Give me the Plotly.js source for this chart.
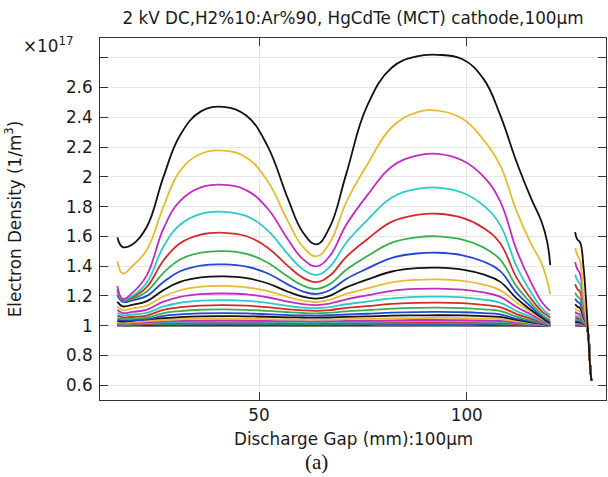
<!DOCTYPE html>
<html>
<head>
<meta charset="utf-8">
<script src="https://cdn.plot.ly/plotly-3.0.1.min.js"></script>
<style>html,body{margin:0;padding:0;background:#fff;}#chart{width:608px;height:477px;}</style>
</head>
<body>
<div id="chart"></div>
<script>
// Discharge gap positions (mm); the null entry in each series splits the two segments
const gapMM = [15.9, 17.2, 19.5, 23, 27, 31, 36, 41.5, 47, 52, 57, 60.5, 63.8, 67, 71, 76, 82, 88, 93, 99, 104, 108, 112, 115.5, 118, 119.4, 120.1, 123, 126.1, 126.6, 127.3, 128.1, 128.7, 129.3, 129.7, 130.0];

// Electron density (x1e17 1/m^3), one array per time step, lowest first
const ne01 = [1.0, 1.0, 1.0, 1.0, 1.0, 1.0, 1.0, 1.0, 1.0, 1.0, 1.0, 1.0, 1.0, 1.0, 1.0, 1.0, 1.0, 1.0, 1.0, 1.0, 1.0, 1.0, 1.0, 1.0, 1.0, 1.0, 1.0, null, 1.0, 1.0, 1.0, 1.0, 1.0, 0.93, 0.74, 0.63];
const ne02 = [1.0, 1.0, 1.0, 1.0, 1.001, 1.001, 1.001, 1.001, 1.001, 1.001, 1.001, 1.001, 1.001, 1.001, 1.001, 1.001, 1.001, 1.001, 1.001, 1.001, 1.001, 1.001, 1.0, 1.0, 1.0, 1.0, 1.0, null, 1.0, 1.0, 1.0, 1.0, 1.0, 0.93, 0.74, 0.63];
const ne03 = [1.001, 1.001, 1.001, 1.001, 1.001, 1.001, 1.001, 1.001, 1.001, 1.001, 1.001, 1.001, 1.001, 1.001, 1.001, 1.001, 1.001, 1.001, 1.002, 1.001, 1.001, 1.001, 1.001, 1.0, 1.0, 1.0, 1.0, null, 1.001, 1.0, 1.0, 1.0, 1.0, 0.93, 0.74, 0.63];
const ne04 = [1.001, 1.001, 1.001, 1.002, 1.002, 1.002, 1.002, 1.002, 1.002, 1.002, 1.002, 1.002, 1.002, 1.002, 1.002, 1.002, 1.002, 1.002, 1.003, 1.002, 1.002, 1.002, 1.001, 1.001, 1.0, 1.0, 1.0, null, 1.001, 1.001, 1.001, 1.0, 1.0, 0.93, 0.74, 0.63];
const ne05 = [1.002, 1.001, 1.002, 1.002, 1.003, 1.003, 1.003, 1.003, 1.003, 1.003, 1.003, 1.003, 1.003, 1.003, 1.003, 1.003, 1.003, 1.003, 1.004, 1.003, 1.003, 1.003, 1.002, 1.001, 1.001, 1.0, 1.0, null, 1.001, 1.001, 1.001, 1.0, 1.0, 0.93, 0.74, 0.63];
const ne06 = [1.002, 1.002, 1.002, 1.003, 1.004, 1.004, 1.005, 1.005, 1.005, 1.004, 1.004, 1.004, 1.004, 1.004, 1.004, 1.004, 1.005, 1.005, 1.005, 1.005, 1.005, 1.004, 1.003, 1.002, 1.001, 1.0, 1.0, null, 1.002, 1.002, 1.002, 1.001, 1.0, 0.93, 0.74, 0.63];
const ne07 = [1.003, 1.003, 1.003, 1.004, 1.005, 1.006, 1.006, 1.006, 1.006, 1.006, 1.006, 1.005, 1.005, 1.006, 1.006, 1.006, 1.007, 1.007, 1.007, 1.007, 1.006, 1.006, 1.004, 1.002, 1.001, 1.001, 1.0, null, 1.003, 1.002, 1.002, 1.001, 1.0, 0.93, 0.74, 0.63];
const ne08 = [1.005, 1.004, 1.005, 1.007, 1.008, 1.009, 1.01, 1.01, 1.01, 1.009, 1.009, 1.009, 1.008, 1.009, 1.009, 1.01, 1.01, 1.011, 1.011, 1.011, 1.01, 1.009, 1.006, 1.004, 1.002, 1.001, 1.0, null, 1.004, 1.004, 1.003, 1.002, 1.0, 0.93, 0.74, 0.63];
const ne09 = [1.007, 1.006, 1.008, 1.01, 1.012, 1.013, 1.014, 1.015, 1.014, 1.014, 1.013, 1.012, 1.012, 1.013, 1.013, 1.014, 1.015, 1.016, 1.016, 1.016, 1.015, 1.013, 1.009, 1.005, 1.003, 1.001, 1.001, null, 1.006, 1.005, 1.005, 1.002, 1.001, 0.93, 0.74, 0.63];
const ne10 = [1.01, 1.009, 1.011, 1.014, 1.017, 1.019, 1.021, 1.021, 1.021, 1.02, 1.018, 1.018, 1.018, 1.018, 1.019, 1.02, 1.022, 1.023, 1.023, 1.023, 1.021, 1.019, 1.013, 1.008, 1.004, 1.002, 1.001, null, 1.009, 1.008, 1.007, 1.003, 1.001, 0.93, 0.74, 0.63];
const ne11 = [1.014, 1.012, 1.014, 1.018, 1.022, 1.025, 1.027, 1.028, 1.027, 1.026, 1.024, 1.023, 1.023, 1.024, 1.025, 1.026, 1.029, 1.03, 1.03, 1.029, 1.028, 1.025, 1.017, 1.01, 1.005, 1.002, 1.001, null, 1.011, 1.01, 1.009, 1.004, 1.001, 0.93, 0.74, 0.63];
const ne12 = [1.017, 1.015, 1.018, 1.023, 1.028, 1.032, 1.034, 1.035, 1.034, 1.032, 1.03, 1.03, 1.029, 1.03, 1.032, 1.033, 1.036, 1.038, 1.038, 1.037, 1.035, 1.032, 1.021, 1.013, 1.006, 1.003, 1.002, null, 1.014, 1.013, 1.011, 1.005, 1.002, 0.93, 0.74, 0.63];
const ne13 = [1.023, 1.021, 1.024, 1.031, 1.038, 1.043, 1.047, 1.048, 1.047, 1.044, 1.042, 1.041, 1.04, 1.041, 1.044, 1.046, 1.049, 1.051, 1.052, 1.051, 1.048, 1.044, 1.029, 1.017, 1.009, 1.004, 1.002, null, 1.019, 1.017, 1.016, 1.007, 1.002, 0.93, 0.74, 0.63];
const ne14 = [1.032, 1.028, 1.033, 1.042, 1.051, 1.058, 1.063, 1.064, 1.063, 1.06, 1.056, 1.055, 1.054, 1.055, 1.059, 1.062, 1.067, 1.069, 1.07, 1.069, 1.064, 1.059, 1.039, 1.023, 1.012, 1.006, 1.003, null, 1.026, 1.023, 1.021, 1.01, 1.003, 0.93, 0.74, 0.63];
const ne15 = [1.041, 1.035, 1.037, 1.042, 1.066, 1.076, 1.082, 1.084, 1.082, 1.077, 1.071, 1.069, 1.068, 1.07, 1.075, 1.08, 1.087, 1.091, 1.092, 1.09, 1.084, 1.076, 1.046, 1.028, 1.014, 1.006, 1.004, null, 1.034, 1.03, 1.028, 1.013, 1.004, 0.93, 0.74, 0.63];
const ne16 = [1.053, 1.045, 1.048, 1.054, 1.085, 1.098, 1.107, 1.109, 1.106, 1.099, 1.09, 1.085, 1.083, 1.087, 1.096, 1.104, 1.114, 1.12, 1.121, 1.118, 1.11, 1.099, 1.061, 1.036, 1.018, 1.008, 1.005, null, 1.045, 1.04, 1.036, 1.017, 1.005, 0.93, 0.74, 0.63];
const ne17 = [1.068, 1.056, 1.06, 1.068, 1.106, 1.124, 1.135, 1.138, 1.134, 1.124, 1.11, 1.103, 1.10, 1.105, 1.119, 1.131, 1.146, 1.153, 1.155, 1.151, 1.14, 1.125, 1.078, 1.047, 1.023, 1.011, 1.006, null, 1.057, 1.051, 1.047, 1.022, 1.006, 0.93, 0.74, 0.63];
const ne18 = [1.085, 1.07, 1.075, 1.086, 1.129, 1.154, 1.168, 1.172, 1.167, 1.153, 1.133, 1.121, 1.117, 1.124, 1.144, 1.162, 1.183, 1.193, 1.195, 1.19, 1.175, 1.155, 1.098, 1.059, 1.029, 1.014, 1.008, null, 1.072, 1.064, 1.059, 1.027, 1.008, 0.93, 0.74, 0.63];
const ne19 = [1.105, 1.085, 1.092, 1.108, 1.161, 1.194, 1.212, 1.216, 1.21, 1.191, 1.161, 1.145, 1.138, 1.148, 1.177, 1.204, 1.234, 1.247, 1.249, 1.242, 1.223, 1.195, 1.125, 1.075, 1.037, 1.017, 1.01, null, 1.092, 1.082, 1.075, 1.035, 1.01, 0.93, 0.74, 0.63];
const ne20 = [1.13, 1.105, 1.115, 1.135, 1.196, 1.238, 1.262, 1.267, 1.258, 1.233, 1.192, 1.168, 1.159, 1.173, 1.213, 1.25, 1.291, 1.308, 1.311, 1.301, 1.276, 1.239, 1.156, 1.093, 1.047, 1.022, 1.012, null, 1.115, 1.103, 1.093, 1.044, 1.012, 0.93, 0.74, 0.63];
const ne21 = [1.16, 1.13, 1.14, 1.165, 1.239, 1.294, 1.324, 1.331, 1.319, 1.285, 1.228, 1.195, 1.182, 1.20, 1.257, 1.309, 1.364, 1.386, 1.39, 1.377, 1.344, 1.296, 1.183, 1.105, 1.055, 1.027, 1.016, null, 1.144, 1.129, 1.117, 1.055, 1.016, 0.93, 0.74, 0.63];
const ne22 = [1.205, 1.16, 1.17, 1.20, 1.294, 1.366, 1.404, 1.412, 1.397, 1.352, 1.276, 1.231, 1.213, 1.238, 1.314, 1.383, 1.456, 1.485, 1.49, 1.473, 1.431, 1.368, 1.221, 1.127, 1.064, 1.039, 1.025, null, 1.181, 1.162, 1.147, 1.069, 1.02, 0.93, 0.74, 0.63];
const ne23 = [1.225, 1.17, 1.18, 1.23, 1.355, 1.445, 1.491, 1.501, 1.483, 1.425, 1.328, 1.27, 1.247, 1.279, 1.376, 1.466, 1.558, 1.594, 1.60, 1.578, 1.526, 1.446, 1.264, 1.15, 1.078, 1.048, 1.036, null, 1.222, 1.198, 1.18, 1.084, 1.024, 0.93, 0.74, 0.63];
const ne24 = [1.24, 1.175, 1.19, 1.26, 1.438, 1.554, 1.612, 1.624, 1.601, 1.526, 1.40, 1.323, 1.293, 1.335, 1.462, 1.579, 1.699, 1.744, 1.752, 1.724, 1.657, 1.555, 1.323, 1.18, 1.098, 1.068, 1.053, null, 1.278, 1.248, 1.226, 1.105, 1.03, 0.93, 0.74, 0.63];
const ne25 = [1.25, 1.177, 1.20, 1.29, 1.532, 1.678, 1.751, 1.765, 1.736, 1.642, 1.479, 1.38, 1.341, 1.394, 1.557, 1.708, 1.861, 1.919, 1.928, 1.893, 1.808, 1.679, 1.399, 1.223, 1.121, 1.084, 1.074, null, 1.343, 1.306, 1.278, 1.13, 1.037, 0.93, 0.74, 0.63];
const ne26 = [1.266, 1.18, 1.22, 1.34, 1.653, 1.838, 1.929, 1.946, 1.909, 1.789, 1.578, 1.449, 1.399, 1.467, 1.678, 1.874, 2.07, 2.143, 2.155, 2.11, 2.003, 1.839, 1.508, 1.289, 1.162, 1.116, 1.10, null, 1.427, 1.381, 1.347, 1.162, 1.046, 0.93, 0.74, 0.63];
const ne27 = [1.434, 1.351, 1.40, 1.51, 1.80, 2.04, 2.155, 2.176, 2.129, 1.974, 1.70, 1.532, 1.466, 1.555, 1.829, 2.08, 2.335, 2.433, 2.445, 2.39, 2.25, 2.08, 1.77, 1.55, 1.42, 1.30, 1.21, null, 1.524, 1.477, 1.434, 1.20, 1.058, 0.93, 0.74, 0.63];
const ne28 = [1.593, 1.528, 1.545, 1.665, 2.0, 2.28, 2.44, 2.47, 2.41, 2.21, 1.85, 1.63, 1.546, 1.66, 2.02, 2.475, 2.735, 2.81, 2.82, 2.79, 2.66, 2.42, 2.10, 1.855, 1.70, 1.56, 1.407, null, 1.628, 1.58, 1.56, 1.40, 1.18, 0.91, 0.73, 0.63];

const series = [ne01, ne02, ne03, ne04, ne05, ne06, ne07, ne08, ne09, ne10, ne11, ne12, ne13, ne14,
                ne15, ne16, ne17, ne18, ne19, ne20, ne21, ne22, ne23, ne24, ne25, ne26, ne27, ne28];

const xTickVals = [50, 100];
const yTickVals = [0.6, 0.8, 1, 1.2, 1.4, 1.6, 1.8, 2, 2.2, 2.4, 2.6, 2.8];
const yTickText = ['0.6', '0.8', '1', '1.2', '1.4', '1.6', '1.8', '2', '2.2', '2.4', '2.6', ''];

const cycle = ['#2446d8', '#36b04a', '#d42a2a', '#2ccaca', '#c42ac4', '#e9ba32', '#111111'];

const traces = series.map((ys, i) => ({
  type: 'scatter', mode: 'lines', x: gapMM, y: ys,
  connectgaps: false,
  line: {color: cycle[i % 7], width: 1.8, shape: 'spline', smoothing: 1.2},
  hoverinfo: 'skip'
}));

const FONT = 'DejaVu Sans, Verdana, sans-serif';
const FS = 16.8;
const layout = {
  width: 608, height: 477,
  margin: {l: 100, r: 2, t: 38, b: 77, pad: 0},
  paper_bgcolor: '#ffffff', plot_bgcolor: '#ffffff',
  showlegend: false,
  font: {family: FONT, size: FS, color: '#1a1a1a'},
  title: {text: '2 kV DC,H2%10:Ar%90, HgCdTe (MCT) cathode,100µm',
          x: 0.5, xref: 'paper', xanchor: 'center', y: 0.962, yref: 'container', yanchor: 'middle',
          font: {family: FONT, size: FS, color: '#1a1a1a'}},
  xaxis: {range: [11.72, 133.53], tickvals: xTickVals, ticks: 'inside', ticklen: 8, tickcolor: '#333',
          showline: true, linecolor: '#333', linewidth: 1, mirror: 'ticks',
          showgrid: true, gridcolor: '#e6e6e6', gridwidth: 1, zeroline: false,
          ticklabelstandoff: 0,
          tickfont: {family: FONT, size: FS, color: '#1a1a1a'}},
  yaxis: {range: [0.5005, 2.933], tickvals: yTickVals, ticktext: yTickText, ticks: 'inside', ticklen: 8, tickcolor: '#333',
          showline: true, linecolor: '#333', linewidth: 1, mirror: 'ticks',
          showgrid: true, gridcolor: '#e6e6e6', gridwidth: 1, zeroline: false,
          ticklabelstandoff: 3,
          tickfont: {family: FONT, size: FS, color: '#1a1a1a'},
          title: {text: 'Electron Density (1/m<sup>3</sup>)', standoff: 40, font: {family: FONT, size: FS, color: '#1a1a1a'}}},
  annotations: [
    {text: 'Discharge Gap (mm):100µm', xref: 'paper', yref: 'paper', x: 0.5, y: -0.107, xanchor: 'center', yanchor: 'middle',
     showarrow: false, font: {family: FONT, size: FS, color: '#1a1a1a'}},
    {text: '×10<sup>17</sup>', xref: 'paper', yref: 'paper', x: -0.049, y: 0.982, xanchor: 'right', yanchor: 'middle',
     showarrow: false, font: {family: FONT, size: FS, color: '#1a1a1a'}},
    {text: '(a)', xref: 'paper', yref: 'paper', x: 0.427, y: -0.172, xanchor: 'center', yanchor: 'middle',
     showarrow: false, font: {family: 'Liberation Serif, Times New Roman, serif', size: 21, color: '#111'}}
  ]
};

Plotly.newPlot('chart', traces, layout, {staticPlot: true, displayModeBar: false});
</script>
</body>
</html>
